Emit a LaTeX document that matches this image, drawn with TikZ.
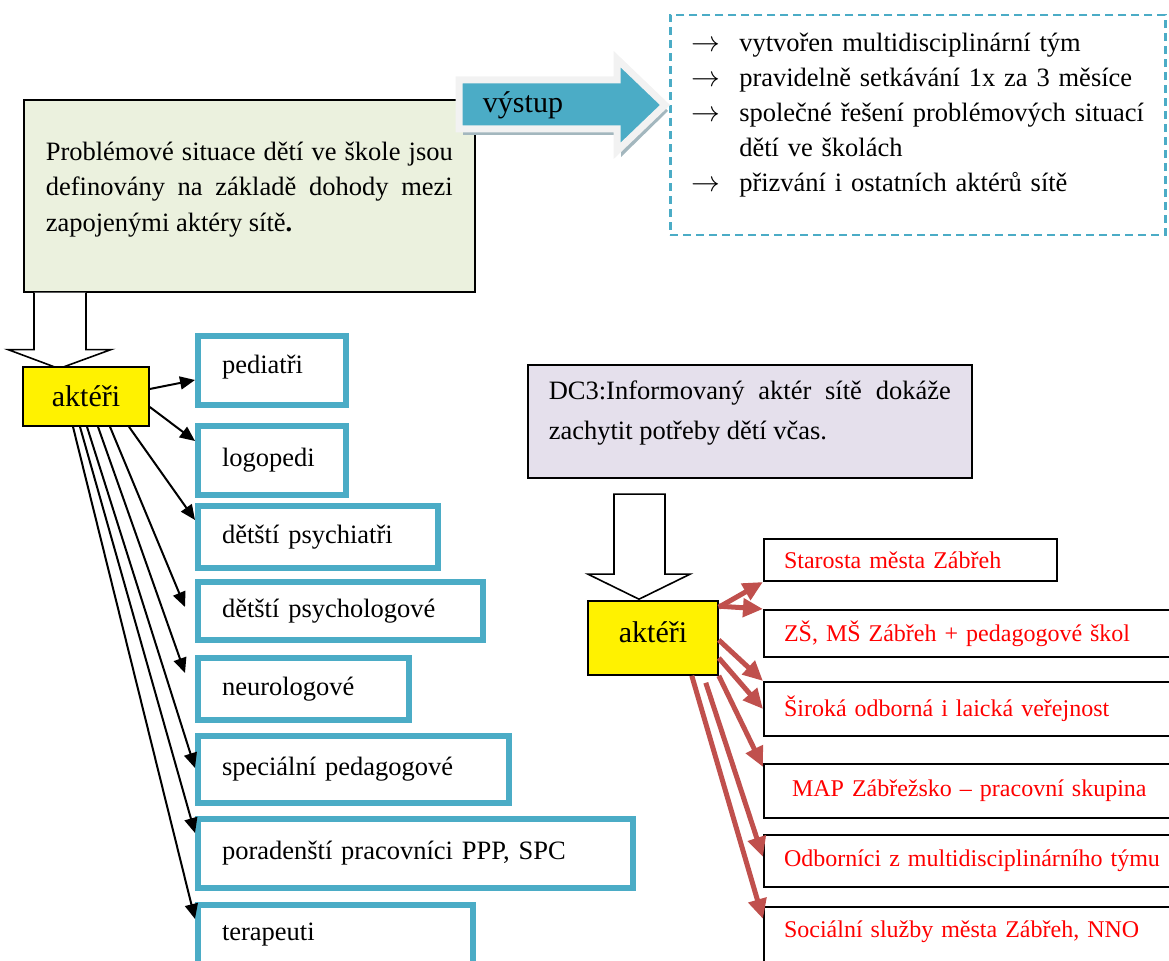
\documentclass[tikz,border=0pt]{standalone}
\usepackage{fontspec}
\setmainfont{Liberation Serif}
\usetikzlibrary{arrows.meta,calc,positioning}
\definecolor{aqua}{HTML}{4BACC6}
\definecolor{brickred}{HTML}{C0504D}
\definecolor{olivefill}{HTML}{EBF1DE}
\definecolor{lilacfill}{HTML}{E5E0EC}
\definecolor{arrowrim}{HTML}{F2F2F2}
\definecolor{arrowshade}{HTML}{A3B7BE}
\newcommand{\txtbody}{\fontsize{13.25}{17.75}\selectfont}
\newcommand{\txtred}{\fontsize{12}{14}\selectfont}
\newcommand{\txtbig}{\fontsize{15}{18}\selectfont}
\tikzset{
    bluebox/.style={
        draw=aqua,
        line width=3pt,
        fill=white,
        anchor=north west,
        align=left,
        inner xsep=12pt,
        inner ysep=0pt,
        font=\txtbody
    },
    redbox/.style={
        draw,
        line width=1pt,
        fill=white,
        anchor=north west,
        align=left,
        inner xsep=10pt,
        inner ysep=0pt,
        text=red,
        text width=200.5pt,
        font=\txtred
    },
    yellowbox/.style={
        draw,
        fill=yellow,
        line width=0.8pt,
        inner sep=0pt,
        font=\txtbig
    },
    hollow/.style={draw, fill=white, line width=0.8pt, line join=miter},
    blackarr/.style={-{Triangle[length=7.5pt,width=6.5pt]}, line width=1pt},
    redarr/.style={draw=brickred, -{Triangle[length=10pt,width=9pt]}, line width=2.5pt}
}

\begin{document}
\begin{tikzpicture}[x=0.5pt, y=-0.5pt]
    \useasboundingbox (0,0) rectangle (1169,961);

    % upper left: problem box and its output
    \node[draw, line width=0.8pt, fill=olivefill, anchor=north west,
          minimum width=225pt, minimum height=96pt, text width=203.5pt,
          inner xsep=11pt, align=justify, text depth=45pt, font=\txtbody]
          (problem) at (23,99)
          {Problémové situace dětí ve škole jsou\linebreak definovány na základě dohody mezi\linebreak zapojenými aktéry sítě\textbf{.}};

    \node[draw=aqua, line width=1.25pt, dash pattern=on 4pt off 2.5pt,
          anchor=north west, minimum width=247.5pt, minimum height=110pt,
          text width=226.5pt, inner xsep=10.5pt, align=left,
          text depth=82.5pt, font=\fontsize{13.25}{17.4}\selectfont]
          (output) at (669,14)
          {\makebox[24pt][l]{$\rightarrow$}vytvořen multidisciplinární tým\\
           \makebox[24pt][l]{$\rightarrow$}pravidelně setkávání 1x za 3 měsíce\\
           \makebox[24pt][l]{$\rightarrow$}společné řešení problémových situací\\
           \hspace*{24pt}dětí ve školách\\
           \makebox[24pt][l]{$\rightarrow$}přizvání i ostatních aktérů sítě};

    % block arrow "výstup"
    \fill[arrowshade] (463,85) -- (621,85) -- (621,64) -- (668,111) -- (621,157) -- (621,135) -- (463,135) -- cycle;
    \draw[draw=arrowrim, fill=aqua, line width=3.5pt]
        (459,80) -- (617,80) -- (617,59) -- (665,105) -- (617,151) -- (617,129) -- (459,129) -- cycle;
    \node[font=\txtbig] (vys) at (523,105) {výstup};

    % left actors
    \draw[hollow] ($(problem.south west)+(11,0)$) -- ++(0,57) -- ++(-26,0) -- ++(51,19) -- ++(52,-19) -- ++(-25,0) -- ++(0,-57);
    \node[yellowbox, minimum width=63pt, minimum height=29.5pt] (akt) at (86,396.5) {aktéři};

    \node[bluebox, text width=50pt, minimum height=34.5pt, text depth=6pt] (ped) at (195,333) {pediatři};
    \node[bluebox, text width=50pt, minimum height=34.5pt] (logo) at (195,423) {logopedi};
    \node[bluebox, text width=96pt, minimum height=31pt] (psychiatr) at (195,503) {dětští psychiatři};
    \node[bluebox, text width=118.5pt, minimum height=29pt] (psycholog) at (195,579) {dětští psychologové};
    \node[bluebox, text width=81.5pt, minimum height=31pt] (neuro) at (195,655) {neurologové};
    \node[bluebox, text width=131.5pt, minimum height=33.5pt] (specped) at (195,733) {speciální pedagogové};
    \node[bluebox, text width=193.5pt, minimum height=34.5pt] (porad) at (195,816) {poradenští pracovníci PPP, SPC};
    \node[bluebox, text width=113.5pt, minimum height=35pt, text depth=7.9pt] (terap) at (195,902) {terapeuti};

    \draw[blackarr] ($(akt.east)+(0,-7.5)$) -- ($(ped.west)+(0,9.5)$);
    \draw[blackarr] ($(akt.east)+(0,10.5)$) -- ($(logo.west)+(0,-19.5)$);
    \draw[blackarr] ($(akt.south)+(43,0)$) -- ($(psychiatr.west)+(0,-17)$);
    \draw[blackarr] ($(akt.south)+(24,0)$) -- ($(psycholog.west)+(-10,-4)$);
    \draw[blackarr] ($(akt.south)+(12,0)$) -- ($(neuro.west)+(-10,-16)$);
    \draw[blackarr] ($(akt.south)+(1,0)$) -- ($(specped.west)+(0,-1.5)$);
    \draw[blackarr] ($(akt.south)+(-6,0)$) -- ($(porad.west)+(0,-20.5)$);
    \draw[blackarr] ($(akt.south)+(-13,0)$) -- ($(terap.west)+(0,-21)$);

    % right: DC3 and its actors
    \node[draw, line width=0.8pt, fill=lilacfill, anchor=north west,
          minimum width=222pt, minimum height=56.5pt, text width=201pt,
          inner xsep=10.5pt, align=justify, text depth=31.5pt,
          font=\fontsize{13.25}{20}\selectfont]
          (dc) at (527,364)
          {DC3:Informovaný aktér sítě dokáže\linebreak zachytit potřeby dětí včas.};

    \node[yellowbox, minimum width=65pt, minimum height=37pt, text depth=6pt] (akt2) at (653,638) {aktéři};
    \draw[hollow] ($(akt2.north)+(-14,-1)$) -- ++(-51,-25) -- ++(26,0) -- ++(0,-80) -- ++(51,0) -- ++(0,80) -- ++(25,0) -- cycle;

    \node[redbox, text width=126.5pt, minimum height=21pt] (sta) at (763,538) {Starosta města Zábřeh};
    \node[redbox, minimum height=23.5pt] (zs) at (763,609) {ZŠ, MŠ Zábřeh + pedagogové škol};
    \node[redbox, minimum height=27pt] (sir) at (763,681) {Široká odborná i laická veřejnost};
    \node[redbox, minimum height=27pt] (map) at (763,763) {\hspace*{4pt}MAP Zábřežsko – pracovní skupina};
    \node[redbox, minimum height=26pt] (odb) at (763,834) {Odborníci z multidisciplinárního týmu};
    \node[redbox, minimum height=34pt, text depth=11.6pt] (soc) at (763,906) {Sociální služby města Zábřeh, NNO};

    \draw[redarr] ($(akt2.north east)+(0,7)$) -- (sta.south west);
    \draw[redarr] ($(akt2.north east)+(0,6)$) -- (zs.north west);
    \draw[redarr] ($(akt2.east)+(0,2)$) -- (sir.north west);
    \draw[redarr] ($(akt2.east)+(0,20)$) -- (sir.west);
    \draw[redarr] (akt2.south east) -- ($(map.north west)+(0,4)$);
    \draw[redarr] ($(akt2.south east)+(-13,7)$) -- ($(odb.west)+(0,-4)$);
    \draw[redarr] ($(akt2.south east)+(-27,0)$) -- ($(soc.north west)+(0,13)$);
\end{tikzpicture}
\end{document}
